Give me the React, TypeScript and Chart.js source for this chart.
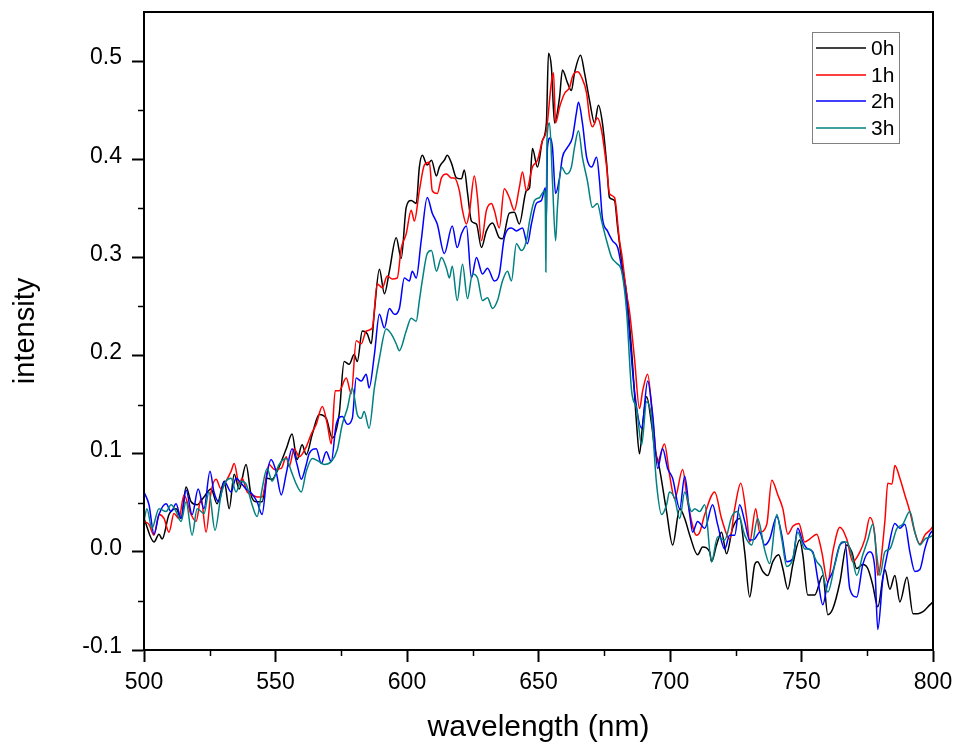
import React, { useEffect, useRef } from "react";
import { Chart, registerables } from "chart.js";

Chart.register(...registerables);

// ---------- data ----------
const seriesLabels = ["0h", "1h", "2h", "3h"];
const seriesColors = ["#000000", "#ff0000", "#0000ff", "#008080"];

const wl0h = [
  500, 503.8, 505.7, 506.9, 509.5, 512.2, 514.1, 516.0, 517.9, 520.2,
  522.8, 525.5, 527.8, 530.5, 532.4, 534.3, 536.2, 538.8, 540.7, 542.6,
  544.9, 546.8, 548.7, 550.6, 554.1, 556.3, 558.2, 560.1, 561.7, 564.0,
  566.6, 569.3, 571.6, 574.2, 576.1, 578.0, 579.9, 581.1, 583.0, 584.9,
  586.4, 587.6, 589.5, 591.4, 593.3, 595.9, 597.8, 599.7, 601.6, 603.5,
  604.7, 605.8, 607.7, 609.3, 611.2, 612.3, 614.2, 615.3, 616.9, 618.8,
  620.7, 621.8, 623.0, 624.5, 626.4, 628.3, 630.2, 632.5, 635.1, 636.3,
  638.9, 640.8, 642.7, 645.4, 646.6, 647.7, 649.6, 651.5, 653.0, 653.8,
  654.9, 656.1, 658.0, 659.1, 661.0, 662.5, 663.7, 666.0, 667.5, 669.4,
  671.3, 672.8, 674.3, 675.9, 677.0, 678.9, 680.1, 682.0, 683.5, 685.4,
  687.3, 688.4, 689.6, 691.1, 693.0, 694.1, 696.0, 698.7, 701.0, 703.7,
  705.6, 707.5, 710.5, 712.4, 715.1, 715.8, 717.7, 719.6, 721.5, 723.8,
  726.5, 728.4, 730.3, 732.2, 733.3, 735.3, 737.2, 739.1, 741.3, 742.9,
  744.8, 746.7, 749.3, 750.5, 752.4, 755.0, 758.1, 760.0, 761.9, 764.6,
  767.2, 769.1, 771.0, 773.3, 775.2, 777.1, 779.0, 781.7, 783.6, 785.5,
  787.4, 790.1, 792.4, 794.3, 796.2, 798.8, 800,
];
const int0h = [
  0.034, 0.010, 0.018, 0.013, 0.038, 0.044, 0.034, 0.066, 0.051, 0.048,
  0.056, 0.064, 0.049, 0.072, 0.044, 0.079, 0.064, 0.089, 0.058, 0.051,
  0.051, 0.075, 0.074, 0.082, 0.105, 0.120, 0.094, 0.109, 0.099, 0.120,
  0.140, 0.136, 0.116, 0.140, 0.194, 0.191, 0.201, 0.194, 0.225, 0.222,
  0.212, 0.245, 0.288, 0.263, 0.286, 0.320, 0.299, 0.351, 0.358, 0.355,
  0.392, 0.404, 0.394, 0.399, 0.383, 0.392, 0.399, 0.404, 0.396, 0.381,
  0.380, 0.389, 0.366, 0.337, 0.334, 0.310, 0.327, 0.335, 0.320, 0.319,
  0.345, 0.346, 0.334, 0.368, 0.371, 0.411, 0.392, 0.419, 0.437, 0.508,
  0.494, 0.437, 0.463, 0.491, 0.478, 0.470, 0.488, 0.506, 0.488, 0.460,
  0.437, 0.455, 0.437, 0.396, 0.361, 0.358, 0.330, 0.289, 0.263, 0.205,
  0.130, 0.100, 0.130, 0.158, 0.130, 0.107, 0.085, 0.041, 0.007, 0.044,
  0.034, 0.017, -0.003, 0.005, 0.000, -0.010, 0.007, 0.020, -0.002, 0.024,
  0.034, 0.000, -0.046, -0.013, -0.010, -0.020, -0.024, -0.010, -0.003, -0.017,
  -0.038, -0.013, 0.012, -0.003, -0.044, -0.044, -0.024, -0.064, -0.058, -0.031,
  0.007, 0.000, -0.017, -0.013, -0.017, -0.034, -0.056, -0.018, -0.038, -0.024,
  -0.051, -0.026, -0.063, -0.063, -0.061, -0.054, -0.051,
];

const wl1h = [
  500, 501.9, 503.8, 505.7, 507.6, 509.5, 511.4, 513.3, 515.2, 517.9,
  519.8, 521.7, 523.6, 525.5, 527.4, 529.3, 531.2, 533.1, 534.3, 536.2,
  537.3, 539.2, 541.1, 543.0, 544.9, 547.6, 549.5, 552.2, 554.1, 555.2,
  557.1, 559.0, 561.7, 563.6, 565.5, 567.8, 569.7, 571.2, 572.7, 574.2,
  576.9, 578.8, 580.7, 582.6, 584.5, 586.8, 588.7, 590.6, 592.5, 594.4,
  596.3, 597.8, 599.7, 601.6, 602.8, 604.7, 606.6, 608.5, 609.6, 611.5,
  613.1, 615.0, 616.9, 618.0, 619.9, 621.1, 622.6, 623.7, 625.6, 626.8,
  628.3, 630.2, 632.1, 633.2, 635.1, 637.0, 638.9, 640.8, 642.7, 643.9,
  645.4, 647.7, 649.6, 651.5, 653.0, 654.9, 655.7, 656.5, 658.0, 659.9,
  661.8, 662.9, 664.8, 666.3, 668.3, 669.4, 670.5, 672.4, 674.0, 675.9,
  677.0, 678.9, 680.8, 681.6, 683.5, 684.6, 686.5, 688.4, 689.6, 691.5,
  693.4, 695.3, 697.9, 699.8, 701.8, 704.8, 706.7, 710.1, 711.3, 713.2,
  717.0, 719.6, 722.7, 724.6, 726.9, 729.2, 730.3, 732.6, 734.1, 736.8,
  738.7, 741.0, 742.9, 744.8, 746.7, 749.0, 751.2, 753.1, 755.8, 757.7,
  760.0, 761.9, 764.6, 767.2, 769.5, 772.2, 774.1, 776.0, 777.9, 779.0,
  781.7, 782.8, 784.4, 785.5, 787.4, 789.3, 791.2, 793.1, 795.0, 796.9,
  798.8, 800,
];
const int1h = [
  0.031, 0.028, 0.017, 0.038, 0.034, 0.020, 0.039, 0.034, 0.058, 0.038,
  0.031, 0.054, 0.020, 0.061, 0.074, 0.064, 0.072, 0.082, 0.090, 0.069,
  0.075, 0.061, 0.058, 0.056, 0.056, 0.089, 0.084, 0.085, 0.097, 0.087,
  0.105, 0.097, 0.107, 0.120, 0.130, 0.148, 0.130, 0.110, 0.164, 0.164,
  0.177, 0.161, 0.215, 0.212, 0.225, 0.228, 0.273, 0.269, 0.281, 0.278,
  0.279, 0.309, 0.324, 0.348, 0.337, 0.368, 0.394, 0.397, 0.368, 0.365,
  0.381, 0.385, 0.381, 0.381, 0.368, 0.348, 0.334, 0.345, 0.383, 0.361,
  0.317, 0.348, 0.355, 0.348, 0.330, 0.370, 0.361, 0.348, 0.371, 0.387,
  0.368, 0.392, 0.399, 0.419, 0.429, 0.478, 0.488, 0.437, 0.453, 0.467,
  0.473, 0.484, 0.489, 0.484, 0.467, 0.443, 0.433, 0.442, 0.429, 0.392,
  0.365, 0.361, 0.317, 0.304, 0.263, 0.245, 0.197, 0.146, 0.164, 0.181,
  0.136, 0.092, 0.110, 0.079, 0.054, 0.084, 0.051, 0.017, 0.020, 0.038,
  0.061, 0.034, 0.013, 0.044, 0.070, 0.034, 0.010, 0.044, 0.020, 0.028,
  0.073, 0.058, 0.044, 0.018, 0.026, 0.029, 0.010, 0.013, 0.018, 0.000,
  -0.031, 0.000, 0.025, 0.013, -0.010, 0.000, 0.013, 0.035, 0.017, -0.024,
  0.031, 0.070, 0.069, 0.088, 0.075, 0.058, 0.041, 0.020, 0.008, 0.017,
  0.022, 0.026,
];

const wl2h = [
  500, 501.9, 503.8, 505.7, 508.4, 510.3, 512.2, 514.1, 516.0, 518.3,
  520.6, 522.8, 525.1, 526.6, 528.5, 530.5, 533.1, 535.0, 536.9, 538.8,
  541.1, 543.0, 544.9, 546.8, 548.3, 550.2, 552.2, 554.1, 556.3, 558.2,
  559.8, 561.7, 562.8, 565.5, 567.4, 569.3, 571.2, 573.1, 575.4, 577.3,
  579.2, 580.7, 582.6, 584.5, 585.6, 587.6, 589.5, 591.4, 593.3, 595.2,
  597.1, 599.0, 600.9, 602.0, 603.5, 605.4, 607.7, 609.6, 611.5, 614.2,
  617.2, 619.1, 620.7, 622.6, 624.5, 626.4, 628.7, 630.6, 633.2, 635.1,
  637.0, 639.7, 641.6, 643.9, 645.8, 647.3, 649.2, 651.1, 652.6, 653.0,
  653.4, 654.5, 655.3, 656.5, 658.0, 659.1, 661.0, 662.9, 664.4, 665.2,
  666.7, 668.3, 670.2, 672.1, 673.2, 674.3, 676.2, 678.1, 680.1, 682.0,
  683.5, 684.6, 686.5, 689.2, 691.5, 693.4, 695.3, 697.2, 699.1, 701.0,
  703.7, 705.6, 707.5, 708.6, 710.5, 713.2, 716.2, 718.1, 720.8, 722.7,
  724.6, 726.5, 728.4, 730.3, 732.2, 734.1, 736.0, 737.9, 740.6, 742.5,
  744.4, 746.7, 748.6, 750.5, 752.4, 754.3, 756.2, 758.1, 760.0, 761.9,
  764.6, 766.5, 768.4, 771.0, 773.3, 776.0, 777.9, 779.0, 780.9, 782.8,
  785.5, 787.4, 789.3, 791.2, 793.1, 795.0, 796.9, 798.8, 800,
];
const int2h = [
  0.061, 0.048, 0.018, 0.038, 0.049, 0.041, 0.049, 0.034, 0.063, 0.038,
  0.064, 0.044, 0.082, 0.061, 0.051, 0.072, 0.061, 0.075, 0.070, 0.064,
  0.059, 0.051, 0.038, 0.079, 0.094, 0.082, 0.058, 0.080, 0.105, 0.089,
  0.074, 0.089, 0.100, 0.105, 0.090, 0.102, 0.092, 0.130, 0.138, 0.130,
  0.136, 0.177, 0.174, 0.181, 0.167, 0.201, 0.242, 0.228, 0.248, 0.242,
  0.248, 0.279, 0.276, 0.286, 0.279, 0.317, 0.361, 0.345, 0.334, 0.304,
  0.332, 0.310, 0.324, 0.332, 0.279, 0.300, 0.283, 0.289, 0.276, 0.283,
  0.320, 0.330, 0.327, 0.330, 0.314, 0.334, 0.355, 0.358, 0.371, 0.337,
  0.412, 0.422, 0.412, 0.365, 0.381, 0.402, 0.412, 0.422, 0.447, 0.458,
  0.437, 0.402, 0.392, 0.402, 0.378, 0.340, 0.327, 0.317, 0.310, 0.283,
  0.256, 0.222, 0.164, 0.126, 0.174, 0.140, 0.085, 0.105, 0.085, 0.075,
  0.044, 0.077, 0.038, 0.020, 0.031, 0.024, 0.048, 0.028, 0.003, 0.017,
  0.017, 0.048, 0.031, 0.012, 0.013, 0.020, 0.007, 0.013, 0.036, 0.017,
  -0.010, -0.007, 0.024, 0.010, 0.003, 0.000, -0.028, -0.054, -0.031, -0.020,
  0.007, 0.010, -0.038, -0.046, -0.013, 0.000, -0.017, -0.079, -0.028, 0.000,
  0.029, 0.024, 0.028, 0.000, -0.020, -0.018, 0.003, 0.018, 0.022,
];

const wl3h = [
  500, 501.1, 503.0, 505.7, 508.4, 510.3, 512.2, 514.1, 516.0, 518.3,
  520.2, 522.8, 524.7, 527.0, 529.3, 531.2, 533.1, 535.0, 536.9, 538.8,
  541.1, 543.0, 544.9, 546.8, 548.7, 551.4, 554.1, 556.0, 557.9, 559.8,
  561.7, 564.0, 566.6, 568.5, 571.2, 573.5, 575.4, 577.3, 579.2, 581.1,
  582.6, 583.7, 585.6, 587.6, 589.5, 592.1, 594.0, 595.9, 597.1, 599.7,
  601.6, 603.5, 604.7, 605.8, 607.7, 609.3, 611.2, 613.1, 615.0, 616.1,
  617.2, 619.1, 621.1, 623.0, 624.9, 626.8, 628.7, 630.6, 632.5, 634.4,
  636.3, 638.2, 639.7, 641.6, 643.5, 645.4, 646.6, 648.5, 650.4, 652.3,
  652.6, 652.8, 653.2, 654.2, 655.3, 656.5, 657.2, 658.7, 660.6, 662.5,
  663.7, 665.2, 666.7, 668.6, 670.5, 672.4, 674.0, 675.9, 677.8, 679.7,
  681.6, 683.5, 685.4, 687.3, 689.2, 691.1, 693.0, 694.9, 696.8, 698.7,
  699.8, 701.8, 703.7, 705.6, 708.2, 709.4, 711.3, 713.2, 715.8, 718.1,
  720.8, 723.5, 725.7, 728.4, 731.1, 733.3, 736.0, 737.9, 740.6, 742.5,
  744.4, 746.7, 748.6, 751.2, 753.1, 755.8, 757.7, 760.0, 762.7, 765.3,
  767.2, 769.1, 771.0, 773.3, 775.2, 777.1, 778.6, 779.8, 781.7, 783.6,
  786.3, 788.5, 791.2, 793.1, 795.0, 796.9, 798.8, 800,
];
const int3h = [
  0.031, 0.044, 0.024, 0.044, 0.041, 0.048, 0.041, 0.031, 0.051, 0.017,
  0.044, 0.039, 0.061, 0.022, 0.058, 0.072, 0.075, 0.061, 0.072, 0.069,
  0.048, 0.036, 0.064, 0.085, 0.072, 0.089, 0.095, 0.082, 0.069, 0.061,
  0.082, 0.095, 0.092, 0.089, 0.092, 0.104, 0.130, 0.146, 0.167, 0.140,
  0.136, 0.143, 0.126, 0.167, 0.197, 0.227, 0.222, 0.212, 0.205, 0.225,
  0.238, 0.235, 0.256, 0.276, 0.304, 0.307, 0.286, 0.300, 0.289, 0.279,
  0.291, 0.256, 0.293, 0.258, 0.283, 0.279, 0.256, 0.259, 0.248, 0.256,
  0.276, 0.286, 0.276, 0.314, 0.307, 0.317, 0.337, 0.358, 0.361, 0.368,
  0.351, 0.285, 0.419, 0.437, 0.378, 0.317, 0.351, 0.392, 0.385, 0.392,
  0.412, 0.429, 0.402, 0.378, 0.351, 0.355, 0.337, 0.317, 0.300, 0.294,
  0.286, 0.245, 0.164, 0.146, 0.109, 0.153, 0.136, 0.069, 0.038, 0.048,
  0.061, 0.054, 0.034, 0.061, 0.041, 0.044, 0.041, 0.048, -0.010, 0.015,
  0.012, 0.036, 0.041, 0.017, 0.007, 0.034, 0.002, -0.012, 0.038, 0.013,
  -0.015, -0.007, 0.020, 0.003, 0.003, -0.010, -0.017, -0.041, -0.013, 0.010,
  0.010, -0.003, -0.024, -0.003, 0.012, 0.028, -0.003, -0.024, 0.000, 0.003,
  0.024, 0.028, 0.041, 0.020, 0.007, 0.013, 0.015, 0.017,
];

const xTickValues = [500, 550, 600, 650, 700, 750, 800];
const yTickValues = [-0.1, 0.0, 0.1, 0.2, 0.3, 0.4, 0.5];

const xTitle = "wavelength (nm)";
const yTitle = "intensity";

// ---------- helpers ----------
const FONT = '"Liberation Sans", Arial, Helvetica, sans-serif';
const near = (a: number, b: number) => Math.abs(a - b) < 1e-6;
const isMajorX = (v: number) => xTickValues.some((t) => near(t, v));
const isMajorY = (v: number) => yTickValues.some((t) => near(t, v));

const toPoints = (xs: number[], ys: number[]) =>
  xs.map((x, i) => ({ x, y: ys[i] }));

const decorPlugin = {
  id: "decor",
  afterDraw(chart: any) {
    const { ctx, chartArea: a, scales } = chart;
    ctx.save();
    // frame
    ctx.strokeStyle = "#000";
    ctx.lineWidth = 2;
    ctx.strokeRect(a.left, a.top, a.right - a.left, a.bottom - a.top);
    // minor ticks
    ctx.lineWidth = 1.5;
    ctx.beginPath();
    scales.x.ticks.forEach((t: any) => {
      if (!isMajorX(t.value)) {
        const p = Math.round(scales.x.getPixelForValue(t.value)) + 0.5;
        ctx.moveTo(p, a.bottom);
        ctx.lineTo(p, a.bottom + 6);
      }
    });
    scales.y.ticks.forEach((t: any) => {
      if (!isMajorY(t.value) && t.value < 0.549) {
        const p = Math.round(scales.y.getPixelForValue(t.value)) + 0.5;
        ctx.moveTo(a.left - 6, p);
        ctx.lineTo(a.left, p);
      }
    });
    ctx.stroke();

    // legend
    const bx = a.right - 121;
    const by = a.top + 20;
    const bw = 87;
    const bh = 111;
    ctx.fillStyle = "#fff";
    ctx.fillRect(bx, by, bw, bh);
    ctx.strokeStyle = "#808080";
    ctx.lineWidth = 1;
    ctx.strokeRect(bx + 0.5, by + 0.5, bw, bh);
    ctx.font = `21px ${FONT}`;
    ctx.textBaseline = "middle";
    ctx.textAlign = "left";
    chart.data.datasets.forEach((ds: any, i: number) => {
      const cy = Math.round(by + 16 + i * 26.7);
      ctx.strokeStyle = seriesColors[i];
      ctx.lineWidth = 1.6;
      ctx.beginPath();
      ctx.moveTo(bx + 4, cy);
      ctx.lineTo(bx + 54, cy);
      ctx.stroke();
      ctx.fillStyle = "#000";
      ctx.fillText(ds.label, bx + 59, cy + 1);
    });
    ctx.restore();
  },
};

export default function App() {
  const ref = useRef<HTMLCanvasElement | null>(null);

  useEffect(() => {
    if (!ref.current) return;
    const wls = [wl0h, wl1h, wl2h, wl3h];
    const ints = [int0h, int1h, int2h, int3h];
    const chart = new Chart(ref.current, {
      type: "line",
      data: {
        datasets: seriesLabels.map((label, i) => ({
          label,
          data: toPoints(wls[i], ints[i]),
          borderColor: seriesColors[i],
          backgroundColor: seriesColors[i],
          borderWidth: 1.5,
          pointRadius: 0,
          fill: false,
          cubicInterpolationMode: "monotone",
          order: 4 - i,
        })),
      },
      options: {
        animation: false,
        responsive: false,
        devicePixelRatio: 1,
        events: [],
        layout: { padding: { top: 12, right: 22, left: 0, bottom: 0 } },
        plugins: {
          legend: { display: false },
          tooltip: { enabled: false },
        },
        scales: {
          x: {
            type: "linear",
            position: "bottom",
            min: 500,
            max: 800,
            afterFit: (s: any) => {
              s.height = 96;
              s.paddingLeft = 0;
              s.paddingRight = 0;
            },
            ticks: {
              stepSize: 25,
              autoSkip: false,
              maxRotation: 0,
              padding: 7,
              color: "#000",
              font: { family: FONT, size: 23 },
              callback: (v: any) => (isMajorX(Number(v)) ? String(v) : ""),
            },
            grid: {
              drawOnChartArea: false,
              drawTicks: true,
              tickLength: 12,
              tickWidth: 2,
              tickColor: (c: any) =>
                c.tick && isMajorX(c.tick.value) ? "#000" : "rgba(0,0,0,0)",
            },
            border: { display: true, color: "#000", width: 2 },
            title: {
              display: true,
              text: xTitle,
              color: "#000",
              font: { family: FONT, size: 30 },
              padding: { top: 0, bottom: 0 },
            },
          },
          y: {
            type: "linear",
            min: -0.1,
            max: 0.55,
            afterFit: (s: any) => {
              s.width = 144;
              s.paddingTop = 0;
              s.paddingBottom = 0;
            },
            ticks: {
              stepSize: 0.05,
              autoSkip: false,
              padding: 10,
              labelOffset: -3,
              color: "#000",
              font: { family: FONT, size: 23 },
              callback: (v: any) =>
                isMajorY(Number(v)) ? Number(v).toFixed(1) : "",
            },
            grid: {
              drawOnChartArea: false,
              drawTicks: true,
              tickLength: 12,
              tickWidth: 2,
              tickColor: (c: any) =>
                c.tick && isMajorY(c.tick.value) ? "#000" : "rgba(0,0,0,0)",
            },
            border: { display: true, color: "#000", width: 2 },
            title: {
              display: true,
              text: yTitle,
              color: "#000",
              font: { family: FONT, size: 29 },
              padding: { top: 9, bottom: 0 },
            },
          },
        },
      },
      plugins: [decorPlugin],
    } as any);
    return () => chart.destroy();
  }, []);

  return (
    <div
      style={{
        position: "absolute",
        left: 0,
        top: 0,
        width: 955,
        height: 746,
        background: "#fff",
      }}
    >
      <canvas ref={ref} width={955} height={746} style={{ display: "block" }} />
    </div>
  );
}
